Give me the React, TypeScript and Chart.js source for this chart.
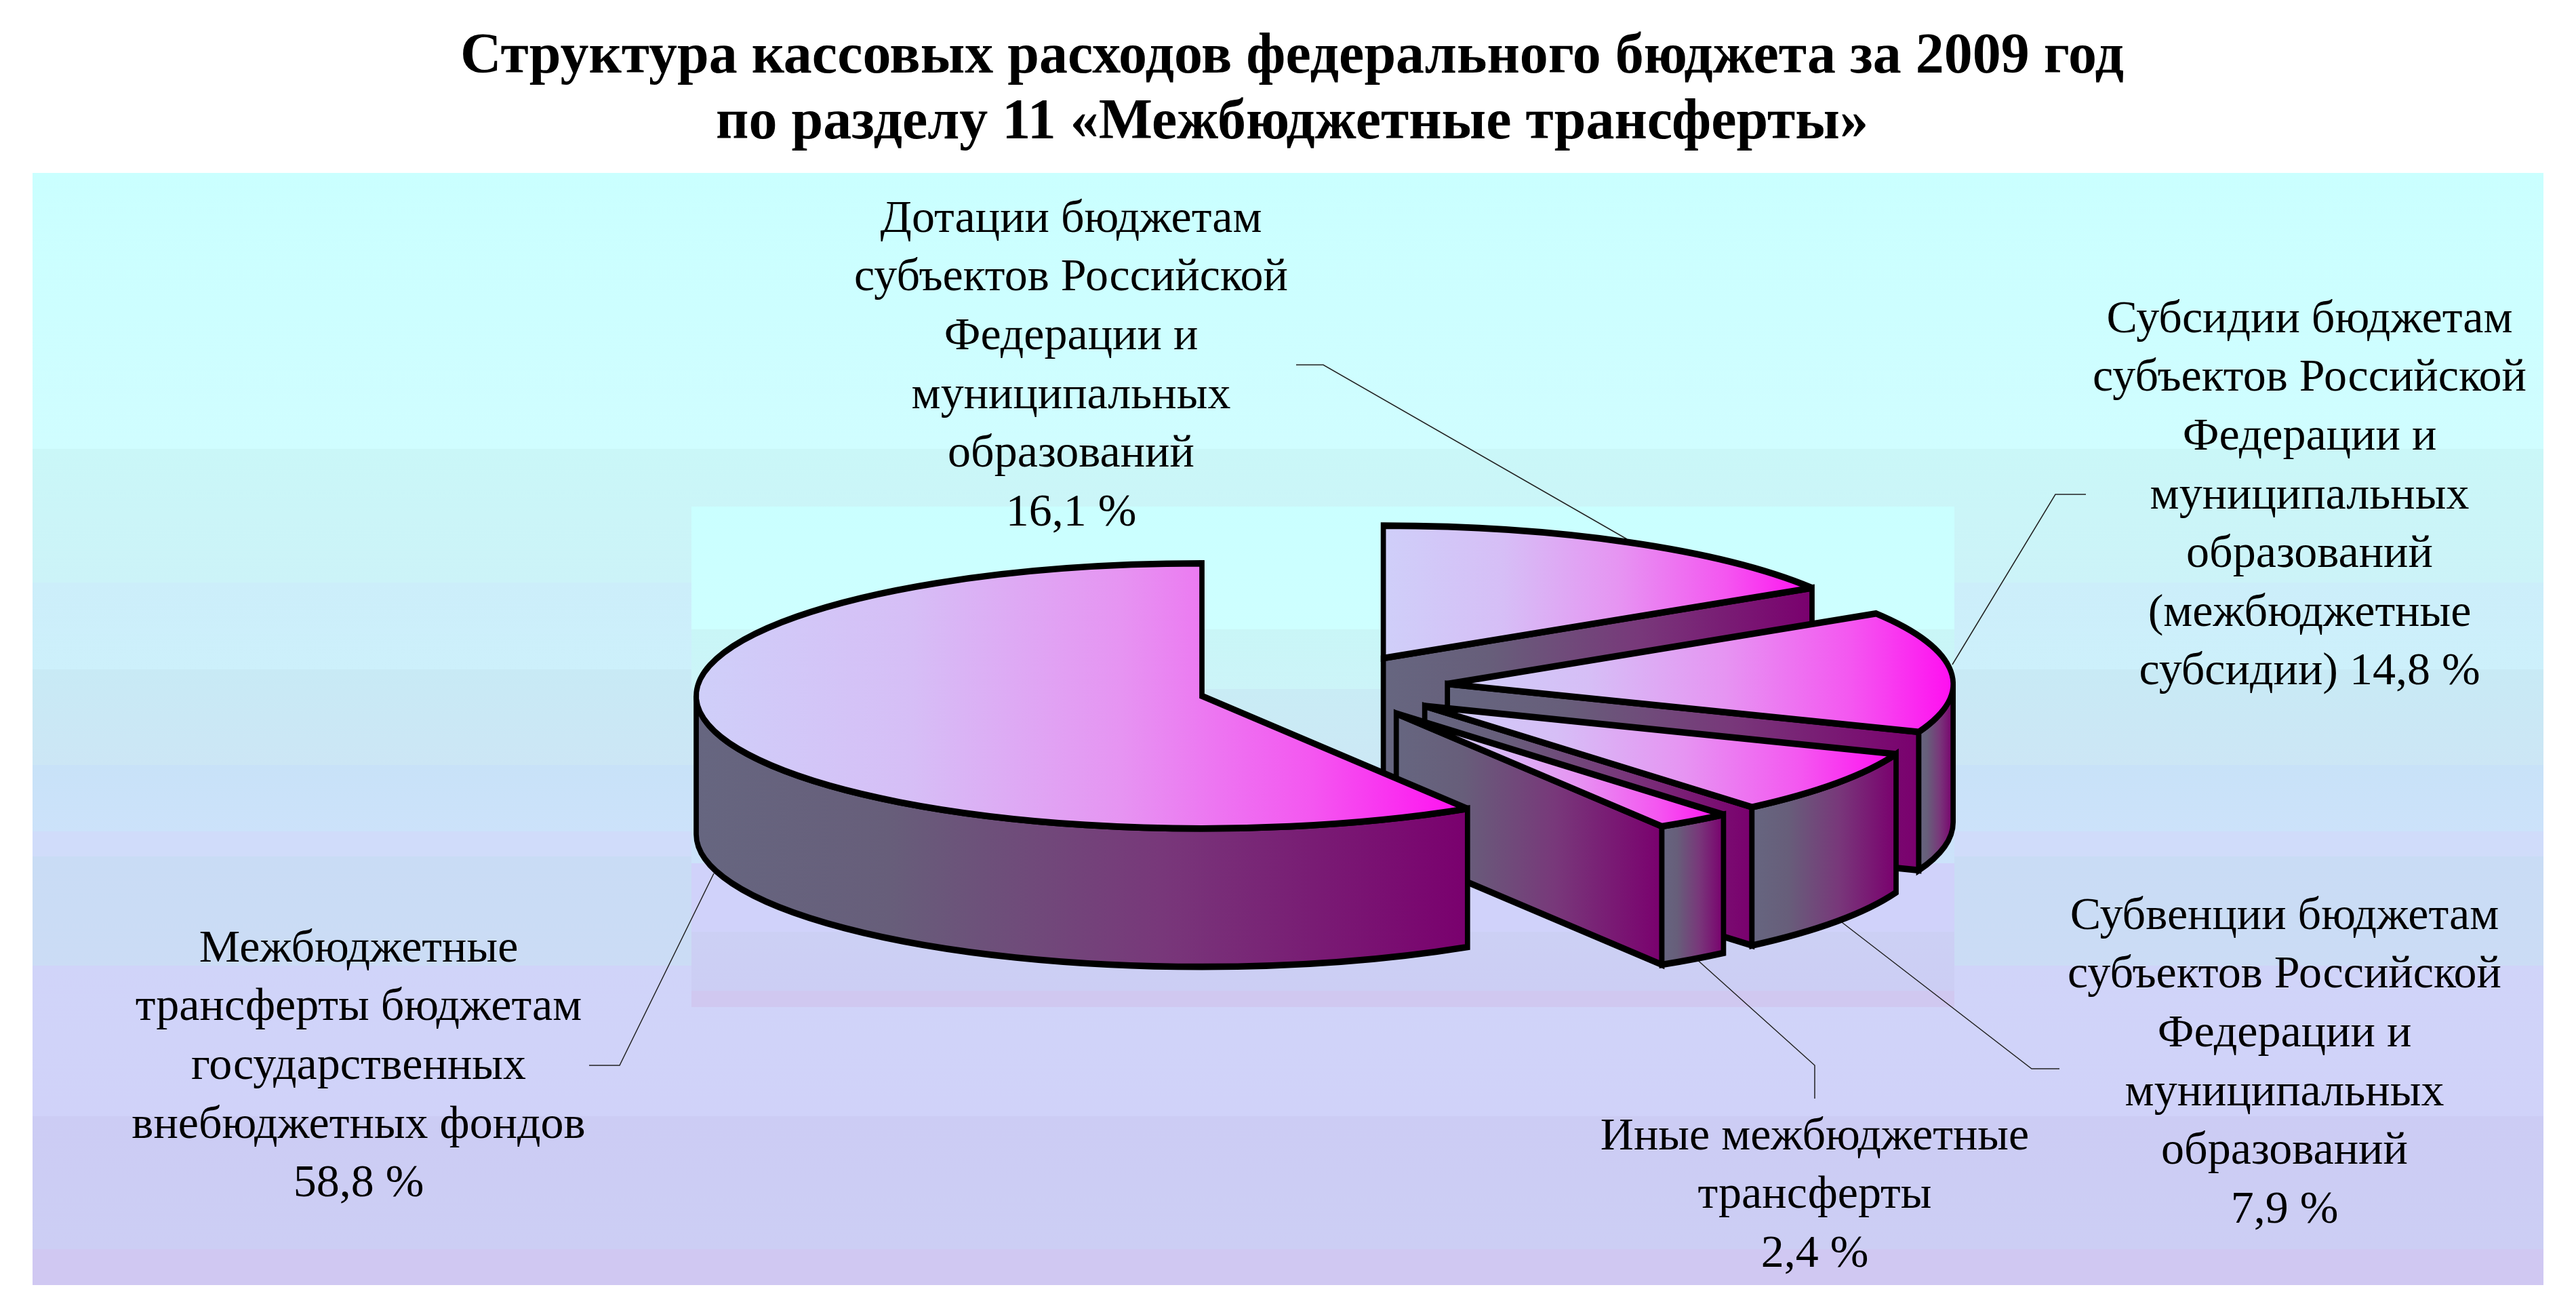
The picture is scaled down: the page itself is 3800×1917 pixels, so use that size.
import React, { useEffect, useRef } from "react";
import { Chart, registerables } from "chart.js";

Chart.register(...registerables);

const titleLines = [
  "Структура кассовых расходов федерального бюджета за 2009 год",
  "по разделу 11 «Межбюджетные трансферты»",
];
const categories = [
  "Дотации бюджетам субъектов Российской Федерации и муниципальных образований",
  "Субсидии бюджетам субъектов Российской Федерации и муниципальных образований (межбюджетные субсидии)",
  "Субвенции бюджетам субъектов Российской Федерации и муниципальных образований",
  "Иные межбюджетные трансферты",
  "Межбюджетные трансферты бюджетам государственных внебюджетных фондов",
];
const shares = [16.1, 14.8, 7.9, 2.4, 58.8];

const dotationLabel = ["Дотации бюджетам", "субъектов Российской", "Федерации и", "муниципальных", "образований", "16,1 %"];
const subsidyLabel = ["Субсидии бюджетам", "субъектов Российской", "Федерации и", "муниципальных", "образований", "(межбюджетные", "субсидии) 14,8 %"];
const subventionLabel = ["Субвенции бюджетам", "субъектов Российской", "Федерации и", "муниципальных", "образований", "7,9 %"];
const otherLabel = ["Иные межбюджетные", "трансферты", "2,4 %"];
const fundsLabel = ["Межбюджетные", "трансферты бюджетам", "государственных", "внебюджетных фондов", "58,8 %"];

type Band = [number, string, string];
const outerBands: Band[] = [
  [255, "#caffff", "#d0fdff"], [662, "#caf7f8", "#ccf3f8"], [859, "#cceefa", "#cdf0fb"], [987, "#c8eaf5", "#cce6f5"],
  [1128, "#c8e2f8", "#cce2fa"], [1226, "#d0dcfa", "#d0dcfa"], [1263, "#c9dcf5", "#cbdcf5"], [1424, "#d0d4f9", "#d0d2f9"],
  [1646, "#ccccf4", "#cccef4"], [1842, "#d0c8f2", "#d0c8f2"], [1895, "", ""],
];
const innerBands: Band[] = [
  [747, "#caffff", "#ceffff"], [928, "#c9f6f7", "#ccf4f8"], [1016, "#c9ecf5", "#cce8f5"], [1128, "#c8e4f9", "#cce2fa"],
  [1273, "#d0d2fa", "#d0d2fa"], [1374, "#ccd0f4", "#cccef4"], [1461, "#d0c8f0", "#d0c8f0"], [1485, "", ""],
];

const leaders: [number, number][][] = [
  [[1912, 538], [1952, 538], [2400, 795]],
  [[3077, 729], [3032, 729], [2880, 980]],
  [[3038, 1576], [2997, 1576], [2717, 1360]],
  [[2677, 1620], [2677, 1571], [2500, 1412]],
  [[869, 1571], [914, 1571], [1053, 1288]],
];

const TILT = 0.262;
const DEPTH = 204;
const LINE = 7.7;
const PEN_STRETCH = 1.25;
const TOP_STOPS: [number, string][] = [[0, "#cfcff9"], [0.28, "#d6bef6"], [0.55, "#e694f2"], [0.8, "#f456f0"], [1, "#ff0ef0"]];
const WALL_STOPS: [number, string][] = [[0, "#666680"], [0.25, "#675e7a"], [0.6, "#78387a"], [1, "#7a006e"]];

function bandsDraw(ctx: CanvasRenderingContext2D, bands: Band[], x0: number, x1: number) {
  for (let i = 0; i < bands.length - 1; i++) {
    const y0 = bands[i][0];
    const y1 = bands[i + 1][0];
    const g = ctx.createLinearGradient(0, y0, 0, y1);
    g.addColorStop(0, bands[i][1]);
    g.addColorStop(1, bands[i][2]);
    ctx.fillStyle = g;
    ctx.fillRect(x0, y0, x1 - x0, y1 - y0);
  }
}

function drawBlock(ctx: CanvasRenderingContext2D, text: string[], cx: number, first: number, step: number, font: string) {
  ctx.font = font;
  ctx.fillStyle = "#000";
  ctx.textAlign = "center";
  ctx.textBaseline = "middle";
  text.forEach((t, i) => ctx.fillText(t, cx, first + i * step));
}

function paint(ctx: CanvasRenderingContext2D, x0: number, x1: number, stops: [number, string][]) {
  const g = ctx.createLinearGradient(x0, 0, x1, 0);
  stops.forEach(([p, c]) => g.addColorStop(p, c));
  ctx.fillStyle = g;
  ctx.fill();
  // the pen is taller than wide: horizontal outlines are heavier than vertical ones
  ctx.save();
  ctx.scale(1, PEN_STRETCH);
  ctx.stroke();
  ctx.restore();
}

function drawSlice(ctx: CanvasRenderingContext2D, el: any) {
  const a: number = el.startAngle;
  const b: number = el.endAngle;
  const r: number = el.outerRadius;
  const mid = (a + b) / 2;
  const off: number = el.options.offset;
  const cx = el.x + Math.cos(mid) * off;
  const cy = el.y + Math.sin(mid) * off * TILT;
  const ry = r * TILT;
  const px = (t: number) => cx + Math.cos(t) * r;
  const py = (t: number) => cy + Math.sin(t) * ry;

  ctx.lineWidth = LINE;
  ctx.strokeStyle = "#000";
  ctx.lineJoin = "miter";
  ctx.miterLimit = 3;

  const radial = (t: number) => {
    ctx.beginPath();
    ctx.moveTo(cx, cy);
    ctx.lineTo(px(t), py(t));
    ctx.lineTo(px(t), py(t) + DEPTH);
    ctx.lineTo(cx, cy + DEPTH);
    ctx.closePath();
    paint(ctx, Math.min(cx, px(t)), Math.max(cx, px(t)), WALL_STOPS);
  };
  if (Math.cos(a) < -1e-6) radial(a);
  if (Math.cos(b) > 1e-6) radial(b);

  const norm = (t: number) => {
    let v = t;
    while (v < -Math.PI / 2 - 1e-9) v += Math.PI * 2;
    return v;
  };
  const sa = norm(a);
  const sb = sa + (b - a);
  const wa = Math.max(sa, 0);
  const wb = Math.min(sb, Math.PI);
  if (wb > wa) {
    ctx.beginPath();
    ctx.ellipse(cx, cy, r, ry, 0, wa, wb);
    ctx.lineTo(px(wb), py(wb) + DEPTH);
    ctx.ellipse(cx, cy + DEPTH, r, ry, 0, wb, wa, true);
    ctx.closePath();
    const xs = [px(wa), px(wb)];
    paint(ctx, Math.min(...xs), Math.max(...xs), WALL_STOPS);
  }

  let minX = Math.min(cx, px(sa), px(sb));
  let maxX = Math.max(cx, px(sa), px(sb));
  if (sa <= 0 && sb >= 0) maxX = cx + r;
  if (sa <= Math.PI && sb >= Math.PI) minX = cx - r;
  ctx.beginPath();
  ctx.moveTo(cx, cy);
  ctx.ellipse(cx, cy, r, ry, 0, sa, sb);
  ctx.closePath();
  paint(ctx, minX, maxX, TOP_STOPS);
}

const pie3d = {
  id: "pie3d",
  beforeDraw(chart: any) {
    const ctx = chart.ctx;
    ctx.save();
    ctx.fillStyle = "#fff";
    ctx.fillRect(0, 0, chart.width, chart.height);
    bandsDraw(ctx, outerBands, 48, 3752);
    bandsDraw(ctx, innerBands, 1020, 2883);
    ctx.restore();
  },
  beforeDatasetDraw(chart: any, args: any) {
    const ctx = chart.ctx;
    ctx.save();
    ctx.strokeStyle = "#222";
    ctx.lineWidth = 1.5;
    leaders.forEach((pts) => {
      ctx.beginPath();
      pts.forEach(([x, y], i) => (i ? ctx.lineTo(x, y) : ctx.moveTo(x, y)));
      ctx.stroke();
    });
    args.meta.data.forEach((el: any) => drawSlice(ctx, el));
    ctx.restore();
    return false;
  },
  afterDraw(chart: any) {
    const ctx = chart.ctx;
    ctx.save();
    const serif = '"Liberation Serif", "Times New Roman", serif';
    drawBlock(ctx, titleLines, 1906, 85, 97, `bold 84px ${serif}`);
    const f = `68px ${serif}`;
    drawBlock(ctx, dotationLabel, 1580, 324, 86.6, f);
    drawBlock(ctx, subsidyLabel, 3407, 472, 86.6, f);
    drawBlock(ctx, subventionLabel, 3370, 1352, 86.6, f);
    drawBlock(ctx, otherLabel, 2677, 1677, 86.6, f);
    drawBlock(ctx, fundsLabel, 529, 1400, 86.6, f);
    ctx.restore();
  },
};

export default function App() {
  const ref = useRef<HTMLCanvasElement>(null);
  useEffect(() => {
    if (!ref.current) return;
    const chart = new Chart(ref.current, {
      type: "pie",
      data: {
        labels: categories,
        datasets: [{ data: shares, radius: 746, offset: 185, borderWidth: 0 } as any],
      },
      options: {
        animation: false,
        responsive: false,
        devicePixelRatio: 1,
        events: [],
        layout: { padding: { left: 102, top: 109, right: 0, bottom: 0 } },
        plugins: { legend: { display: false }, title: { display: false }, tooltip: { enabled: false } },
      } as any,
      plugins: [pie3d as any],
    });
    return () => chart.destroy();
  }, []);
  return (
    <canvas
      ref={ref}
      width={3800}
      height={1917}
      style={{ position: "absolute", left: 0, top: 0, width: 3800, height: 1917, display: "block" }}
    />
  );
}
